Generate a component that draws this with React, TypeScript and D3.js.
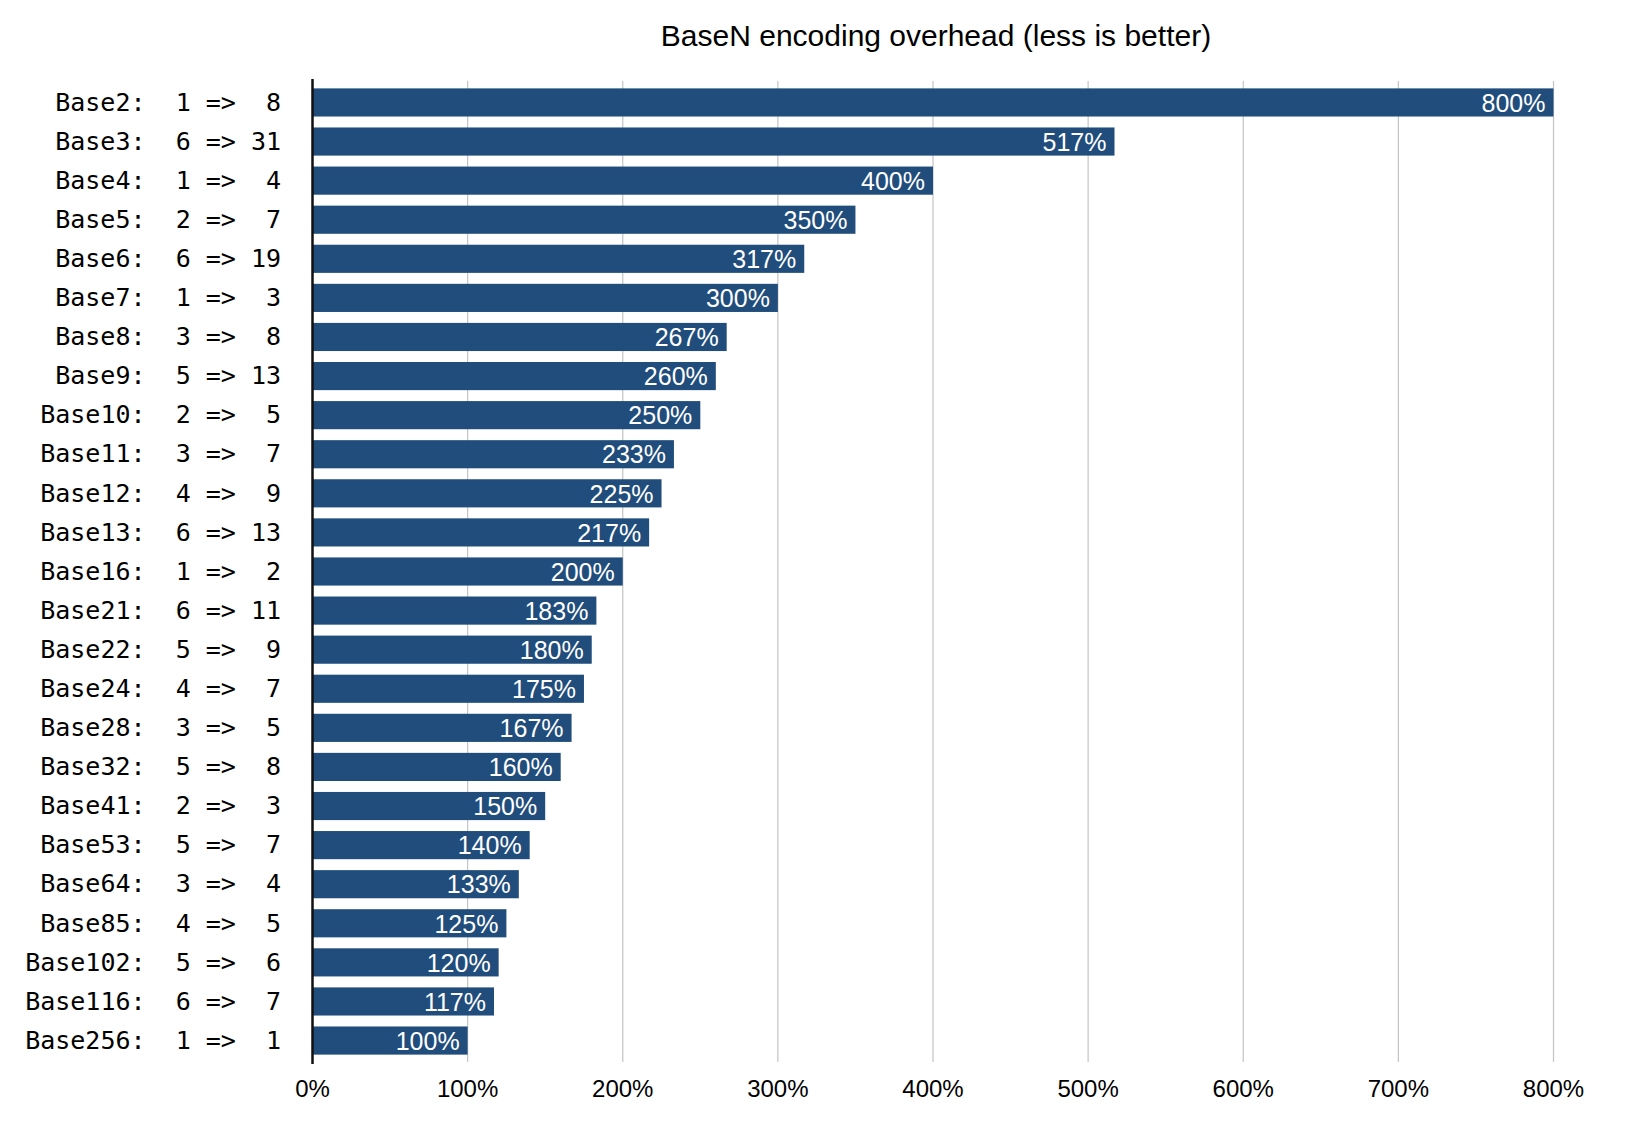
import * as d3 from "d3";

const bases = ["Base2", "Base3", "Base4", "Base5", "Base6", "Base7", "Base8", "Base9", "Base10", "Base11", "Base12", "Base13", "Base16", "Base21", "Base22", "Base24", "Base28", "Base32", "Base41", "Base53", "Base64", "Base85", "Base102", "Base116", "Base256"];
const inputBytes = [1, 6, 1, 2, 6, 1, 3, 5, 2, 3, 4, 6, 1, 6, 5, 4, 3, 5, 2, 5, 3, 4, 5, 6, 1];
const outputChars = [8, 31, 4, 7, 19, 3, 8, 13, 5, 7, 9, 13, 2, 11, 9, 7, 5, 8, 3, 7, 4, 5, 6, 7, 1];
const overhead = [800, 517, 400, 350, 317, 300, 267, 260, 250, 233, 225, 217, 200, 183, 180, 175, 167, 160, 150, 140, 133, 125, 120, 117, 100];
const xTicks = [0, 100, 200, 300, 400, 500, 600, 700, 800];

const W = 1630;
const H = 1124;
const plot = { left: 312.5, right: 1553.5, top: 79, bottom: 1064 };

export default function App() {
  const rows = bases.map((b, i) => ({
    label: `${b}:  ${inputBytes[i]} => ${String(outputChars[i]).padStart(2, " ")}`,
    key: b,
    value: overhead[i],
  }));

  const x = d3.scaleLinear().domain([0, 800]).range([plot.left, plot.right]);
  const y = d3
    .scaleBand<string>()
    .domain(rows.map((r) => r.key))
    .range([plot.top, plot.bottom])
    .paddingInner(0.28)
    .paddingOuter(0.24);

  const sans = "'Liberation Sans', Arial, Helvetica, sans-serif";
  const mono = "'DejaVu Sans Mono', monospace";

  return (
    <svg width={W} height={H} style={{ position: "absolute", left: 0, top: 0, background: "#fff" }}>
      <text x={(plot.left + plot.right) / 2 + 3} y={46} textAnchor="middle" fontFamily={sans} fontSize={30} fill="#000">
        BaseN encoding overhead (less is better)
      </text>

      {xTicks.slice(1).map((t) => (
        <line key={t} x1={x(t)} x2={x(t)} y1={plot.top + 2} y2={plot.bottom - 2} stroke="#c4c4c4" strokeWidth={1.2} />
      ))}

      {rows.map((r) => {
        const yy = y(r.key) ?? 0;
        const cy = yy + y.bandwidth() / 2;
        return (
          <g key={r.key}>
            <rect x={x(0)} y={yy} width={x(r.value) - x(0)} height={y.bandwidth()} fill="#214d7c" />
            <text x={x(r.value) - 8} y={cy} dy="0.37em" textAnchor="end" fontFamily={sans} fontSize={25} fill="#fff">
              {r.value}%
            </text>
            <text x={281} y={cy} dy="0.33em" textAnchor="end" fontFamily={mono} fontSize={25} fill="#000" style={{ whiteSpace: "pre" }}>
              {r.label}
            </text>
          </g>
        );
      })}

      <line x1={plot.left} x2={plot.left} y1={plot.top} y2={plot.bottom} stroke="#111" strokeWidth={2.5} />

      {xTicks.map((t) => (
        <text key={t} x={x(t)} y={1097} textAnchor="middle" fontFamily={sans} fontSize={24} fill="#000">
          {t}%
        </text>
      ))}
    </svg>
  );
}
